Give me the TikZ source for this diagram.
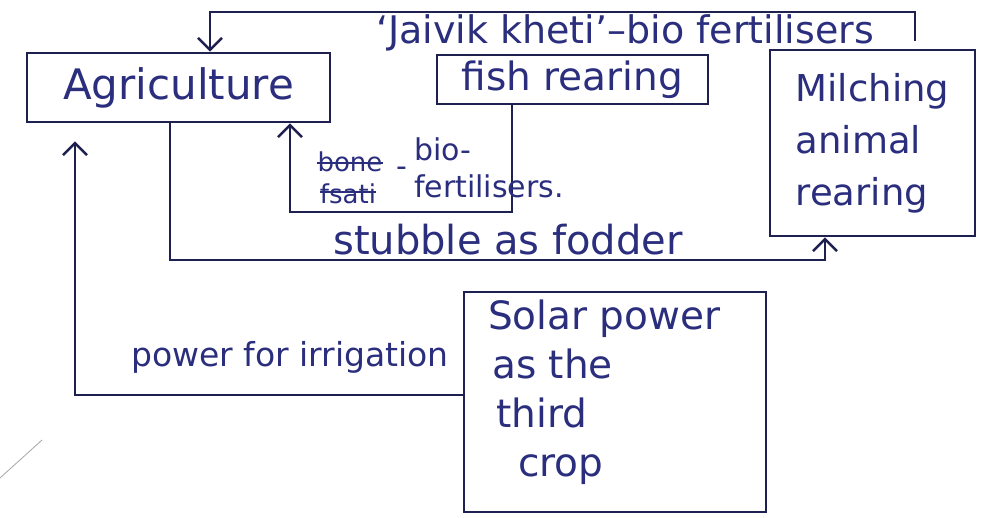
\documentclass[tikz,border=0pt]{standalone}
\usepackage{fontspec}
\setmainfont{DejaVu Sans}
\usetikzlibrary{arrows.meta}
\definecolor{ink}{RGB}{30,32,80}
\definecolor{pen}{RGB}{42,46,125}
\begin{document}
\begin{tikzpicture}[x=1pt,y=-1pt,
  box/.style={draw=ink, line width=2.6pt, rectangle, inner sep=0pt, text=pen},
  conn/.style={draw=ink, line width=2.6pt, -{Straight Barb[length=12pt,width=24pt]}},
  lbl/.style={text=pen, inner sep=0pt},
  strike/.style={draw=pen, line width=2.4pt},
  big/.style={font=\fontsize{38}{50}\selectfont},
  small/.style={font=\fontsize{30}{37}\selectfont}]
\useasboundingbox (0,0) rectangle (981,518);

% boxes
\node[box, font=\fontsize{42}{50}\selectfont, minimum width=303pt, minimum height=69pt] (agri) at (178.5,87.5) {Agriculture};
\node[box, font=\fontsize{39}{50}\selectfont, minimum width=271pt, minimum height=49pt] (fish) at (572.5,79.5) {fish rearing};
\node[box, align=left, font=\fontsize{37}{52}\selectfont, minimum width=205pt, minimum height=186pt] (mil) at (872.5,143) {Milching\\animal\\rearing};
\node[box, minimum width=302pt, minimum height=220pt] (solar) at (615,402) {};
\node[lbl, anchor=north west, align=left, font=\fontsize{39}{49}\selectfont] (soltxt) at (488,300)
  {Solar power\\\hspace*{4pt}as the\\\hspace*{8pt}third\\\hspace*{30pt}crop};

% bend points of the connectors
\coordinate (t1) at (915,12);
\coordinate (t2) at (210,12);
\coordinate (f1) at (512,212);
\coordinate (f2) at (290,212);
\coordinate (a1) at (170,260);
\coordinate (a2) at (825,260);
\coordinate (s1) at (75,395);

% connectors
\draw[conn, shorten <=8pt] ([xshift=42.5pt]mil.north) -- (t1) -- (t2) -- ([xshift=31.5pt]agri.north);
\draw[conn] ([xshift=-60.5pt]fish.south) -- (f1) -- (f2) -- ([xshift=111.5pt]agri.south);
\draw[conn] ([xshift=-8.5pt]agri.south) -- (a1) -- (a2) -- ([xshift=-47.5pt]mil.south);
\draw[conn, shorten >=18pt] ([yshift=7pt]solar.west) -- (s1) -- ([xshift=-103.5pt]agri.south);

% connector labels
\node[lbl, big] (jk) at (625,33) {‘Jaivik kheti’–bio fertilisers};
\node[lbl, font=\fontsize{26}{34}\selectfont] (bone) at (350,162) {bone};
\node[lbl, font=\fontsize{26}{34}\selectfont] (fsati) at (348,194) {fsati};
\draw[strike] ([yshift=-1pt]bone.west) -- ([yshift=-1pt]bone.east);
\draw[strike] ([yshift=2pt]fsati.west) -- ([yshift=2pt]fsati.east);
\node[lbl, small] (dash) at (402,172) {-};
\node[lbl, small, anchor=west, align=left] (bio) at (414,168) {bio-\\fertilisers.};
\node[lbl, font=\fontsize{40}{50}\selectfont] (stub) at (508,240) {stubble as fodder};
\node[lbl, font=\fontsize{33}{40}\selectfont] (irr) at (290,357) {power for irrigation};

% stray pen stroke
\draw[gray!70, line width=0.8pt] (0,478) -- (42,440);
\end{tikzpicture}
\end{document}
